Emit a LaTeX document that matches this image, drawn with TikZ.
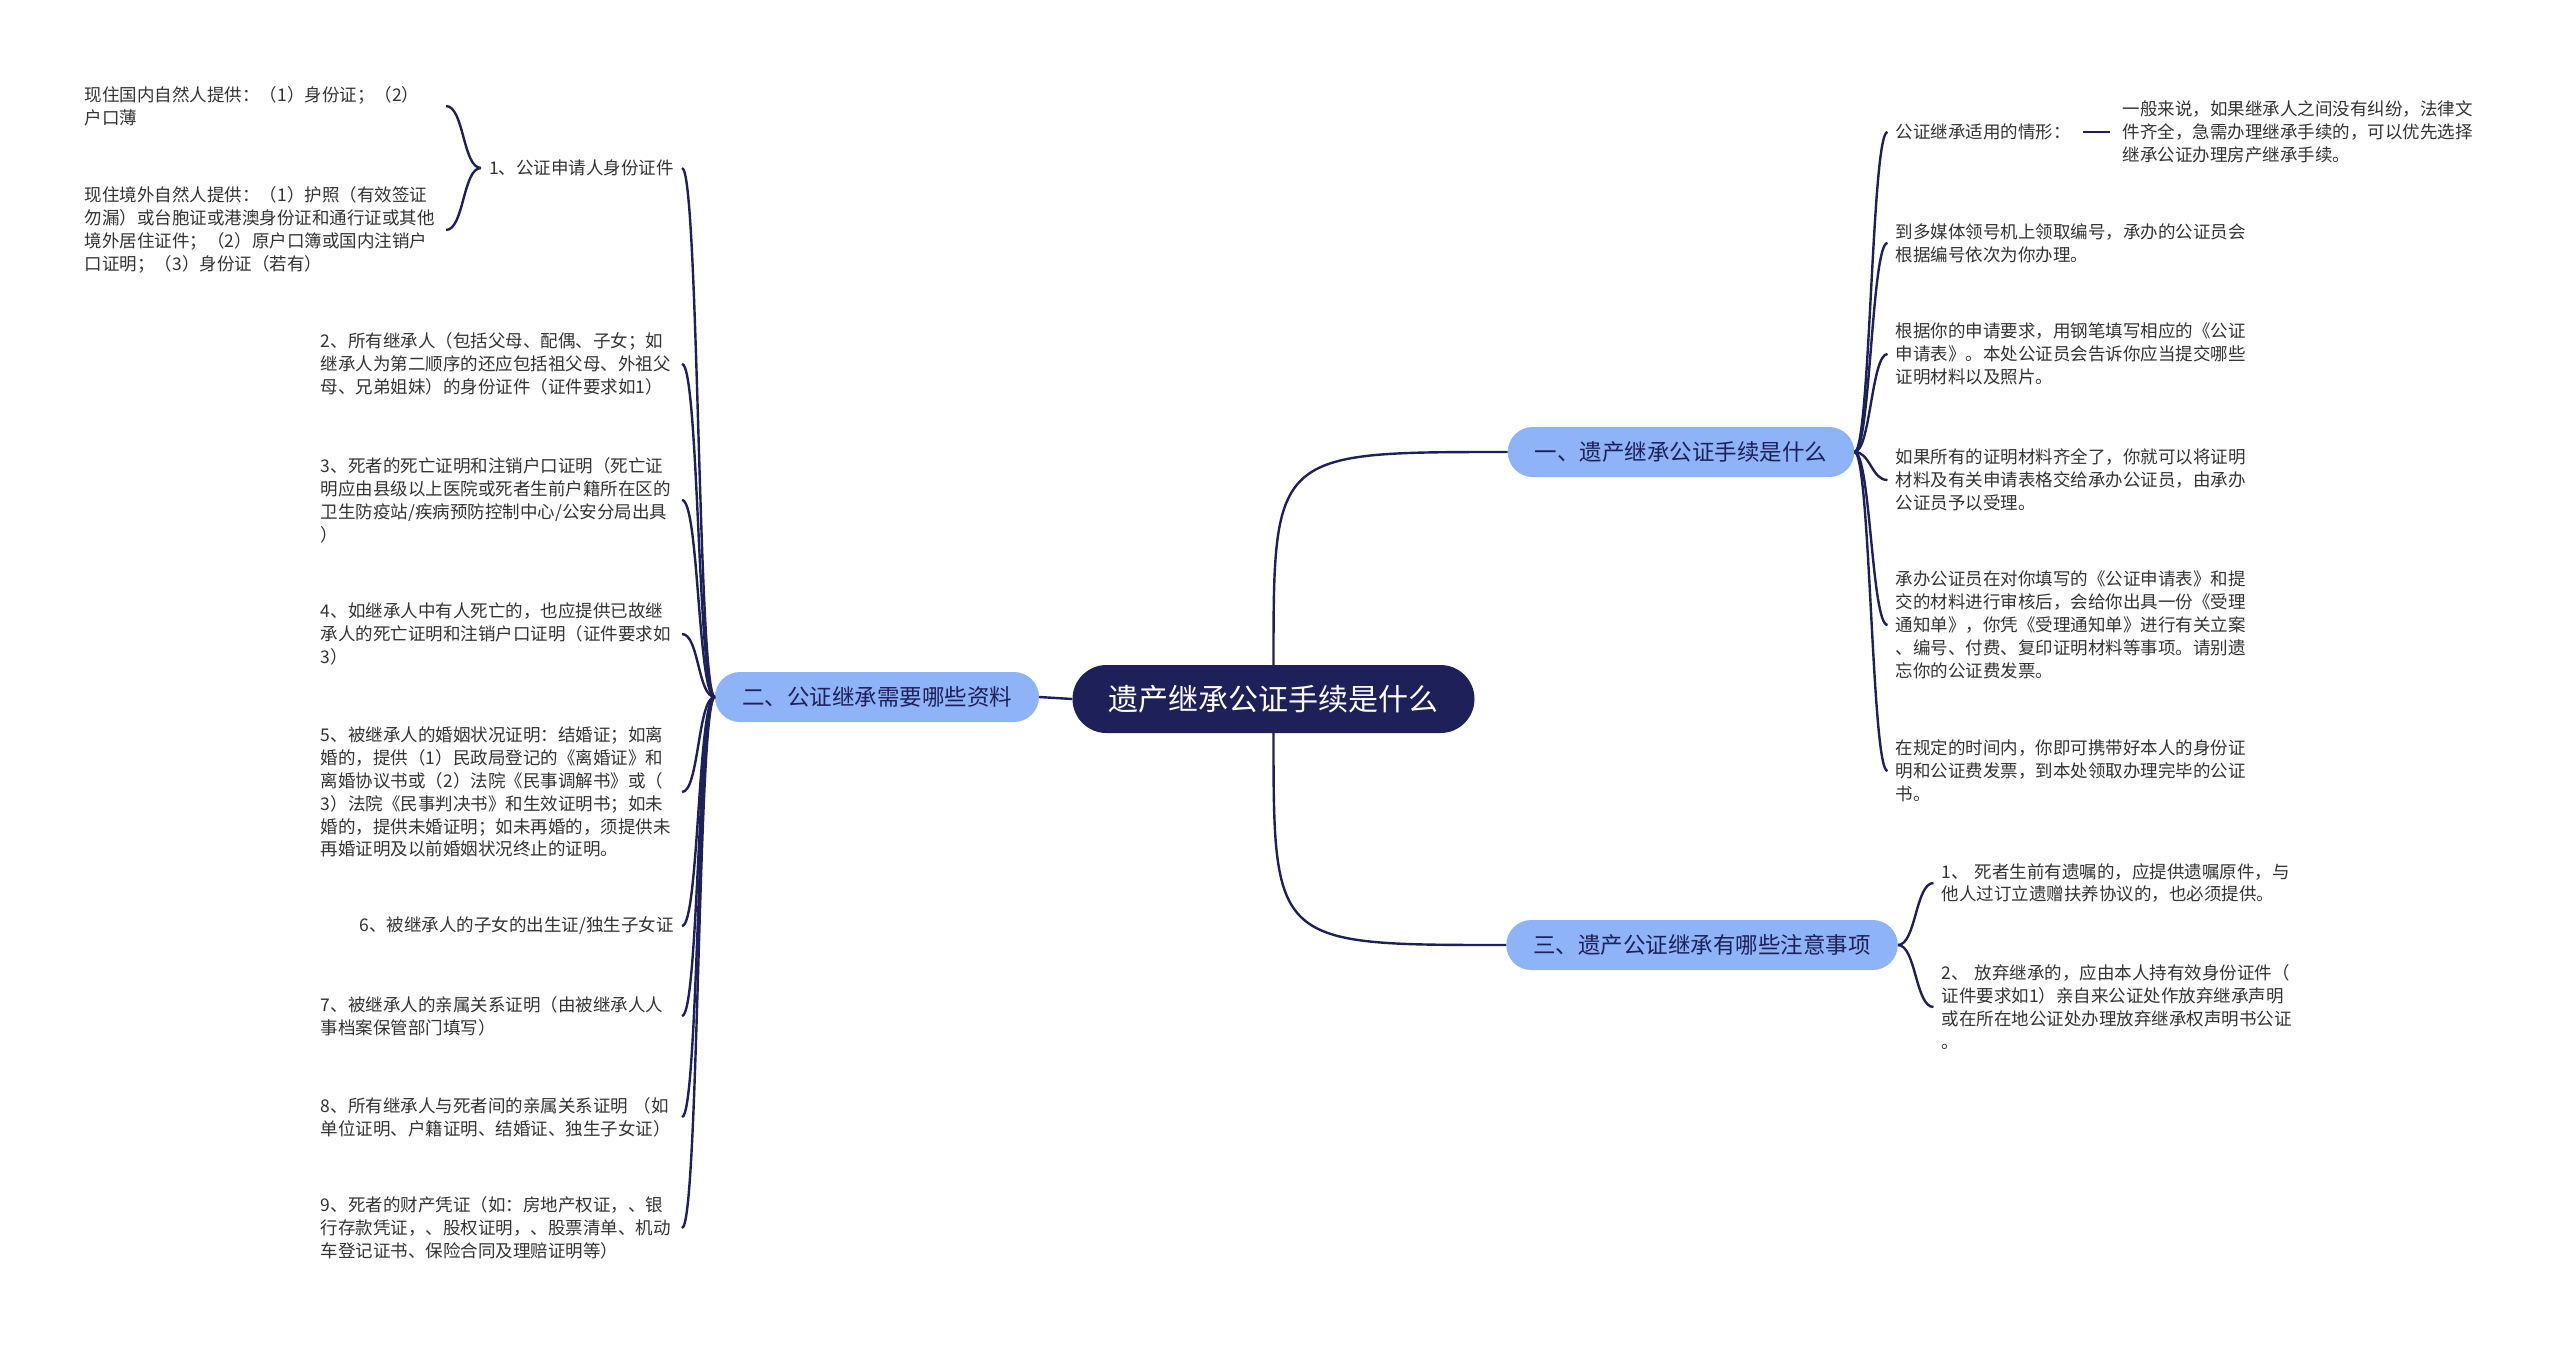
\documentclass[tikz,border=0pt]{standalone}
\usepackage{fontspec}
\setmainfont{Noto Sans CJK SC}
\usepackage{tikz}
\definecolor{navy}{HTML}{1E2059}
\definecolor{skyfill}{HTML}{8EB3F6}
\definecolor{leaftext}{HTML}{333333}
\tikzset{
  rootbox/.style={fill=navy, text=white, rounded corners=34pt, minimum height=68pt, inner xsep=36pt, inner ysep=0pt, font=\fontsize{30}{36}\selectfont},
  topic/.style={fill=skyfill, text=navy, rounded corners=25pt, minimum height=50pt, inner xsep=27pt, inner ysep=0pt, font=\fontsize{22.5}{27}\selectfont},
  leaf/.style={text=leaftext, align=left, inner xsep=8pt, inner ysep=2pt, font=\fontsize{17.5}{22.9}\selectfont},
  leafw/.style={leaf, text width=353pt},
  link/.style={draw=navy, line width=2.4pt}
}
\begin{document}
\begin{tikzpicture}[x=1pt,y=-1pt]
\useasboundingbox (0,0) rectangle (2560,1347);
\node (root) at (1273.5,699) [rootbox] {遗产继承公证手续是什么};
\node (two) at (877,697) [topic] {二、公证继承需要哪些资料};
\node (one) at (1681,452) [topic] {一、遗产继承公证手续是什么};
\node (three) at (1702,945) [topic] {三、遗产公证继承有哪些注意事项};

\node (c1) at (682,168) [leaf, anchor=east] {1、公证申请人身份证件};
\node (g1a) at (446,106) [leafw, anchor=east] {现住国内自然人提供：（1）身份证；（2）\\户口薄};
\node (g1b) at (446,230) [leafw, anchor=east] {现住境外自然人提供：（1）护照（有效签证\\勿漏）或台胞证或港澳身份证和通行证或其他\\境外居住证件；（2）原户口簿或国内注销户\\口证明；（3）身份证（若有）};
\node (c2) at (682,364) [leafw, anchor=east] {2、所有继承人（包括父母、配偶、子女；如\\继承人为第二顺序的还应包括祖父母、外祖父\\母、兄弟姐妹）的身份证件（证件要求如1）};
\node (c3) at (682,500) [leafw, anchor=east] {3、死者的死亡证明和注销户口证明（死亡证\\明应由县级以上医院或死者生前户籍所在区的\\卫生防疫站/疾病预防控制中心/公安分局出具\\）};
\node (c4) at (682,634) [leafw, anchor=east] {4、如继承人中有人死亡的，也应提供已故继\\承人的死亡证明和注销户口证明（证件要求如\\3）};
\node (c5) at (682,792) [leafw, anchor=east] {5、被继承人的婚姻状况证明：结婚证；如离\\婚的，提供（1）民政局登记的《离婚证》和\\离婚协议书或（2）法院《民事调解书》或（\\3）法院《民事判决书》和生效证明书；如未\\婚的，提供未婚证明；如未再婚的，须提供未\\再婚证明及以前婚姻状况终止的证明。};
\node (c6) at (682,926) [leaf, anchor=east] {6、被继承人的子女的出生证/独生子女证};
\node (c7) at (682,1016) [leafw, anchor=east] {7、被继承人的亲属关系证明（由被继承人人\\事档案保管部门填写）};
\node (c8) at (682,1117) [leafw, anchor=east] {8、所有继承人与死者间的亲属关系证明 （如\\单位证明、户籍证明、结婚证、独生子女证）};
\node (c9) at (682,1228) [leafw, anchor=east] {9、死者的财产凭证（如：房地产权证，、银\\行存款凭证，、股权证明，、股票清单、机动\\车登记证书、保险合同及理赔证明等）};

\node (r1) at (1887.5,132) [leaf, anchor=west] {公证继承适用的情形：};
\node (r1x) at (2114.5,132) [leafw, anchor=west] {一般来说，如果继承人之间没有纠纷，法律文\\件齐全，急需办理继承手续的，可以优先选择\\继承公证办理房产继承手续。};
\node (r2) at (1887.5,243) [leafw, anchor=west] {到多媒体领号机上领取编号，承办的公证员会\\根据编号依次为你办理。};
\node (r3) at (1887.5,354) [leafw, anchor=west] {根据你的申请要求，用钢笔填写相应的《公证\\申请表》。本处公证员会告诉你应当提交哪些\\证明材料以及照片。};
\node (r4) at (1887.5,480) [leafw, anchor=west] {如果所有的证明材料齐全了，你就可以将证明\\材料及有关申请表格交给承办公证员，由承办\\公证员予以受理。};
\node (r5) at (1887.5,625) [leafw, anchor=west] {承办公证员在对你填写的《公证申请表》和提\\交的材料进行审核后，会给你出具一份《受理\\通知单》，你凭《受理通知单》进行有关立案\\、编号、付费、复印证明材料等事项。请别遗\\忘你的公证费发票。};
\node (r6) at (1887.5,771) [leafw, anchor=west] {在规定的时间内，你即可携带好本人的身份证\\明和公证费发票，到本处领取办理完毕的公证\\书。};
\node (s1) at (1933.5,883) [leafw, anchor=west] {1、 死者生前有遗嘱的，应提供遗嘱原件，与\\他人过订立遗赠扶养协议的，也必须提供。};
\node (s2) at (1933.5,1007) [leafw, anchor=west] {2、 放弃继承的，应由本人持有效身份证件（\\证件要求如1）亲自来公证处作放弃继承声明\\或在所在地公证处办理放弃继承权声明书公证\\。};

\draw [link] (root.west) -- (two.east);
\draw [link] (root.north) .. controls (root.north |- one.west) .. (one.west);
\draw [link] (root.south) .. controls (root.south |- three.west) .. (three.west);

\draw [link] (two.west) .. controls +(-17,0) and +(17,0) .. (c1.east);
\draw [link] (two.west) .. controls +(-17,0) and +(17,0) .. (c2.east);
\draw [link] (two.west) .. controls +(-17,0) and +(17,0) .. (c3.east);
\draw [link] (two.west) .. controls +(-17,0) and +(17,0) .. (c4.east);
\draw [link] (two.west) .. controls +(-17,0) and +(17,0) .. (c5.east);
\draw [link] (two.west) .. controls +(-17,0) and +(17,0) .. (c6.east);
\draw [link] (two.west) .. controls +(-17,0) and +(17,0) .. (c7.east);
\draw [link] (two.west) .. controls +(-17,0) and +(17,0) .. (c8.east);
\draw [link] (two.west) .. controls +(-17,0) and +(17,0) .. (c9.east);
\draw [link] (c1.west) .. controls +(-18,0) and +(18,0) .. (g1a.east);
\draw [link] (c1.west) .. controls +(-18,0) and +(18,0) .. (g1b.east);

\draw [link] (one.east) .. controls +(16,0) and +(-16,0) .. (r1.west);
\draw [link] (one.east) .. controls +(16,0) and +(-16,0) .. (r2.west);
\draw [link] (one.east) .. controls +(16,0) and +(-16,0) .. (r3.west);
\draw [link] (one.east) .. controls +(16,0) and +(-16,0) .. (r4.west);
\draw [link] (one.east) .. controls +(16,0) and +(-16,0) .. (r5.west);
\draw [link] (one.east) .. controls +(16,0) and +(-16,0) .. (r6.west);
\draw [link, shorten <=4pt, shorten >=5pt] (r1.east) -- (r1x.west);

\draw [link] (three.east) .. controls +(18,0) and +(-18,0) .. (s1.west);
\draw [link] (three.east) .. controls +(18,0) and +(-18,0) .. (s2.west);
\end{tikzpicture}
\end{document}
